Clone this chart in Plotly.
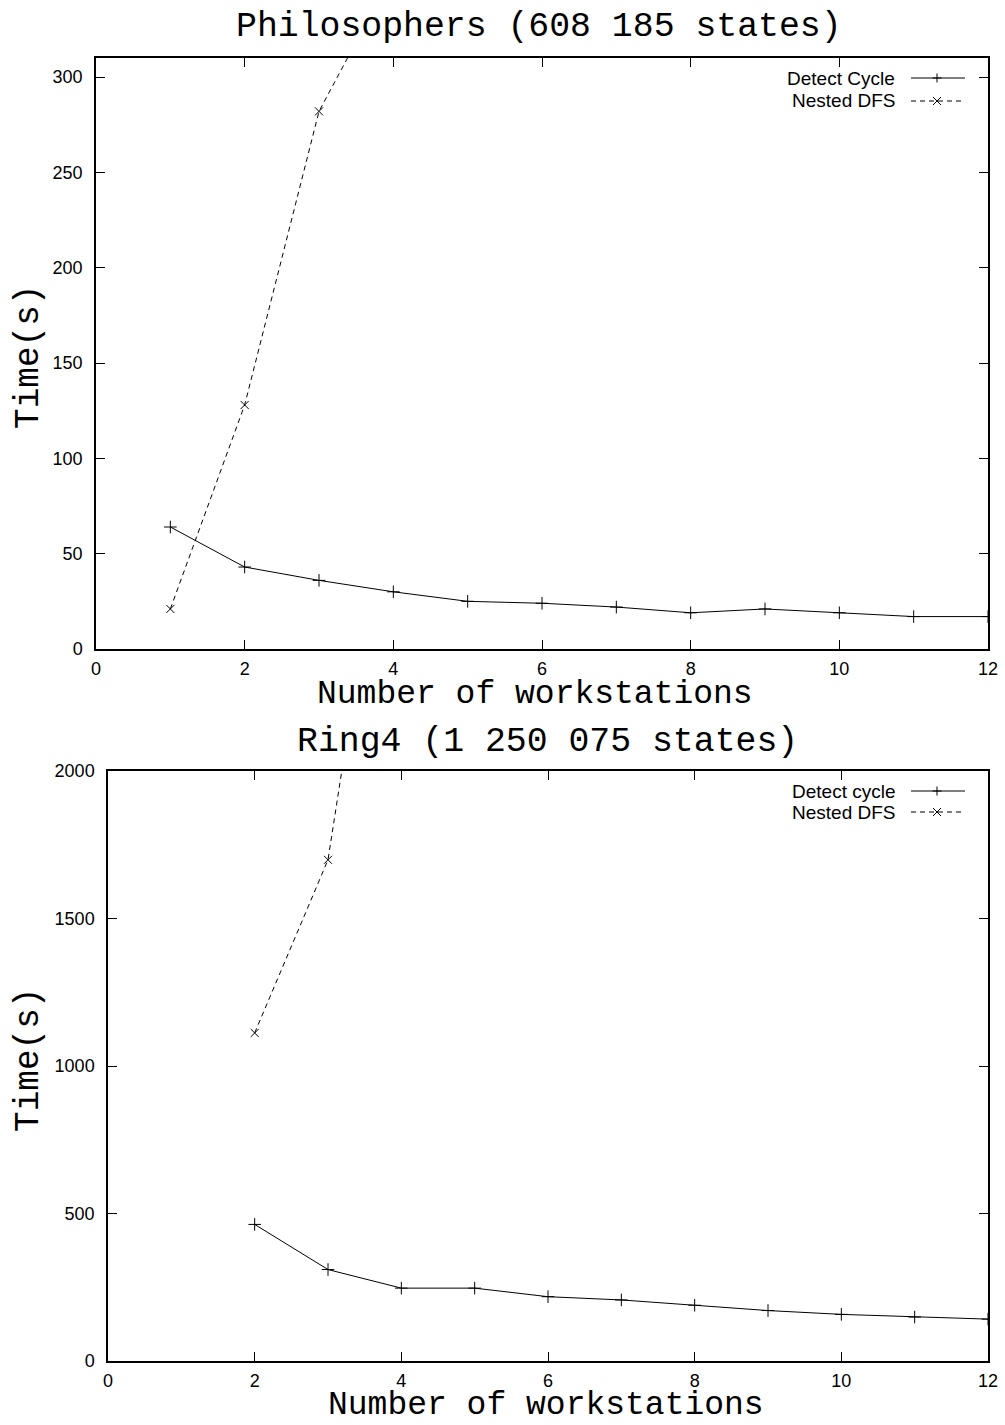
import plotly.graph_objects as go

W, H = 1005, 1425

# ---- data ----
phil_x = [1, 2, 3, 4, 5, 6, 7, 8, 9, 10, 11, 12]
phil_detect = [64, 43, 36, 30, 25, 24, 22, 19, 21, 19, 17, 17]
phil_nested_x = [1, 2, 3, 4]
phil_nested = [21, 128, 282, 355]

ring_x = [2, 3, 4, 5, 6, 7, 8, 9, 10, 11, 12]
ring_detect = [463, 310, 247, 247, 218, 207, 189, 171, 158, 149, 142]
ring_nested_x = [2, 3, 4]
ring_nested = [1112, 1699, 3300]

x_ticks = [0, 2, 4, 6, 8, 10, 12]
phil_y_ticks = [0, 50, 100, 150, 200, 250, 300]
ring_y_ticks = [0, 500, 1000, 1500, 2000]

titles = ["Philosophers (608 185 states)", "Ring4 (1 250 075 states)"]
legend_top = ["Detect Cycle", "Nested DFS"]
legend_bottom = ["Detect cycle", "Nested DFS"]

MONO = "Liberation Mono"
SANS = "Liberation Sans"
DASH = "5px,4px"


def px(x):
    return x / W


def py(y):
    return 1 - y / H


fig = go.Figure()

line_solid = dict(color="black", width=1)
line_dash = dict(color="black", width=1, dash=DASH)
mk_plus = dict(symbol="cross-thin", size=9, line=dict(color="black", width=1), color="black")
mk_x = dict(symbol="x-thin", size=8, line=dict(color="black", width=1), color="black")

fig.add_trace(go.Scatter(x=phil_x, y=phil_detect, mode="lines+markers", line=line_solid,
                         marker=mk_plus, name=legend_top[0], xaxis="x", yaxis="y"))
fig.add_trace(go.Scatter(x=phil_nested_x, y=phil_nested, mode="lines+markers", line=line_dash,
                         marker=mk_x, name=legend_top[1], xaxis="x", yaxis="y"))
fig.add_trace(go.Scatter(x=ring_x, y=ring_detect, mode="lines+markers", line=line_solid,
                         marker=mk_plus, name=legend_bottom[0], xaxis="x2", yaxis="y2"))
fig.add_trace(go.Scatter(x=ring_nested_x, y=ring_nested, mode="lines+markers", line=line_dash,
                         marker=mk_x, name=legend_bottom[1], xaxis="x2", yaxis="y2"))

axis_common = dict(
    showgrid=False, zeroline=False, showline=True, linecolor="black", linewidth=1.5,
    mirror="ticks", ticks="inside", ticklen=9, tickwidth=1, tickcolor="black",
    automargin=False,
    tickfont=dict(family=SANS, size=18, color="black"),
)

fig.update_layout(
    width=W, height=H,
    margin=dict(l=0, r=0, t=0, b=0, pad=0, autoexpand=False),
    paper_bgcolor="white", plot_bgcolor="white",
    showlegend=False,
    xaxis=dict(domain=[px(96), px(988)], range=[0, 12], tickvals=x_ticks,
               anchor="y", ticklabelstandoff=3, **axis_common),
    yaxis=dict(domain=[py(649), py(58)], range=[0, 310], tickvals=phil_y_ticks,
               anchor="x", ticklabelstandoff=8, **axis_common),
    xaxis2=dict(domain=[px(108), px(988)], range=[0, 12], tickvals=x_ticks,
                anchor="y2", ticklabelstandoff=3, **axis_common),
    yaxis2=dict(domain=[py(1361), py(771)], range=[0, 2000], tickvals=ring_y_ticks,
                anchor="x2", ticklabelstandoff=8, **axis_common),
)

ann = []
shapes = []


def text(x, y, s, size=34, family=MONO, xanchor="center", angle=0):
    ann.append(dict(x=px(x), y=py(y), xref="paper", yref="paper", text=s, showarrow=False,
                    xanchor=xanchor, yanchor="middle", textangle=angle,
                    font=dict(family=family, size=size, color="black")))


# titles
text(539, 26, titles[0], size=34.8)
text(547, 741, titles[1], size=34.8)
# axis titles
text(535, 694, "Number of workstations", size=33)
text(546, 1405, "Number of workstations", size=33)
text(28, 357, "Time(s)", size=34.4, angle=-90)
text(28, 1060, "Time(s)", size=34.4, angle=-90)


def seg(x0, y0, x1, y1, ln):
    shapes.append(dict(type="line", xref="paper", yref="paper", x0=px(x0), x1=px(x1),
                       y0=py(y0), y1=py(y1), line=ln))


def legend_entry(y, label, dashed, marker):
    text(897, y, label, size=19, family=SANS, xanchor="right")
    ln = dict(color="black", width=1)
    if dashed:
        ln["dash"] = DASH
    seg(911, y, 965, y, ln)
    cx, cy = 937, y
    lm = dict(color="black", width=1)
    if marker == "plus":
        r = 4.5
        seg(cx - r, cy, cx + r, cy, lm)
        seg(cx, cy - r, cx, cy + r, lm)
    else:
        r = 4
        seg(cx - r, cy - r, cx + r, cy + r, lm)
        seg(cx - r, cy + r, cx + r, cy - r, lm)


legend_entry(78, legend_top[0], False, "plus")
legend_entry(101, legend_top[1], True, "x")
legend_entry(791, legend_bottom[0], False, "plus")
legend_entry(812, legend_bottom[1], True, "x")

fig.update_layout(annotations=ann, shapes=shapes)

# pin the figure to the top-left corner of the page (no body margin / stray line boxes)
post_js = (
    "document.documentElement.style.margin='0';"
    "document.documentElement.style.overflow='hidden';"
    "document.body.style.margin='0';"
    "document.body.style.overflow='hidden';"
    "var gd=document.getElementById('{plot_id}');"
    "gd.style.position='absolute';gd.style.left='0px';gd.style.top='0px';"
)

fig.write_html("out.html", post_script=post_js, config={"displayModeBar": False})
